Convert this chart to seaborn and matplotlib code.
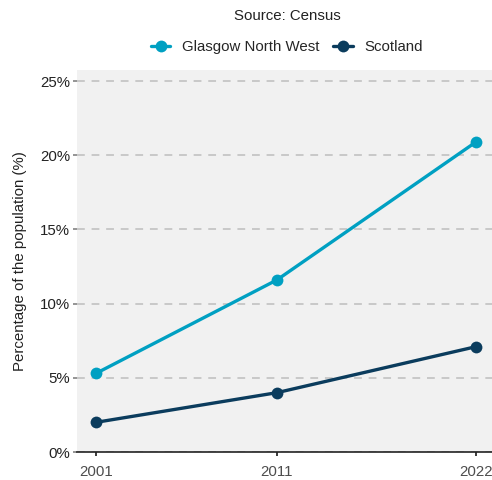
import numpy as np
import pandas as pd
import seaborn as sns
import matplotlib.pyplot as plt
from matplotlib.ticker import FuncFormatter

years = [2001, 2011, 2022]
glasgow_nw = [5.3, 11.6, 20.9]
scotland = [2.0, 4.0, 7.1]
areas = ["Glasgow North West", "Scotland"]
colours = ["#00a0c2", "#0b3c5d"]

df = pd.DataFrame({
    "year": years * 2,
    "value": glasgow_nw + scotland,
    "area": [areas[0]] * 3 + [areas[1]] * 3,
})

sns.set_theme(style="white")
plt.rcParams["font.family"] = ["Liberation Sans", "DejaVu Sans"]

fig = plt.figure(figsize=(4.92, 4.8), dpi=100)
ax = fig.add_axes([77 / 492, 28 / 480, 418 / 492, 382 / 480])
ax.set_facecolor("#f1f1f1")

sns.lineplot(data=df, x="year", y="value", hue="area", palette=colours,
             marker="o", markersize=8.5, markeredgewidth=0, linewidth=2.4,
             ax=ax, legend=True)

ax.set_xlim(1999.95, 2023.05)
ax.set_ylim(0, 25.75)
ax.set_yticks([0, 5, 10, 15, 20, 25])
ax.yaxis.set_major_formatter(FuncFormatter(lambda v, p: f"{v:.0f}%"))
ax.set_xticks(years)
ax.grid(axis="y", color="#c8c8c8", linestyle=(0, (4, 3.5)), linewidth=1.4)
ax.set_axisbelow(True)
for s in ["top", "right", "left"]:
    ax.spines[s].set_visible(False)
ax.spines["bottom"].set_color("#222222")
ax.spines["bottom"].set_linewidth(1.2)
ax.tick_params(axis="y", length=3, color="#888888", labelsize=10.8, labelcolor="#222222", pad=2, left=True)
ax.tick_params(axis="x", length=3, color="#222222", labelsize=10.8, labelcolor="#4d4d4d", pad=6, bottom=True)
ax.set_xlabel("")
ax.set_ylabel("Percentage of the population (%)", fontsize=10.8, color="#222222", labelpad=9)

handles, labels = ax.get_legend_handles_labels()
ax.get_legend().remove()
fig.legend(handles, labels, loc="center", bbox_to_anchor=(287 / 492, 1 - 47 / 480), ncol=2,
           frameon=False, fontsize=10.8, handlelength=1.3, columnspacing=0.9, handletextpad=0.8)
fig.text(287 / 492, 1 - 16 / 480, "Source: Census", ha="center", va="center", fontsize=10.8, color="#222222")

fig.savefig("out.png", dpi=100)
